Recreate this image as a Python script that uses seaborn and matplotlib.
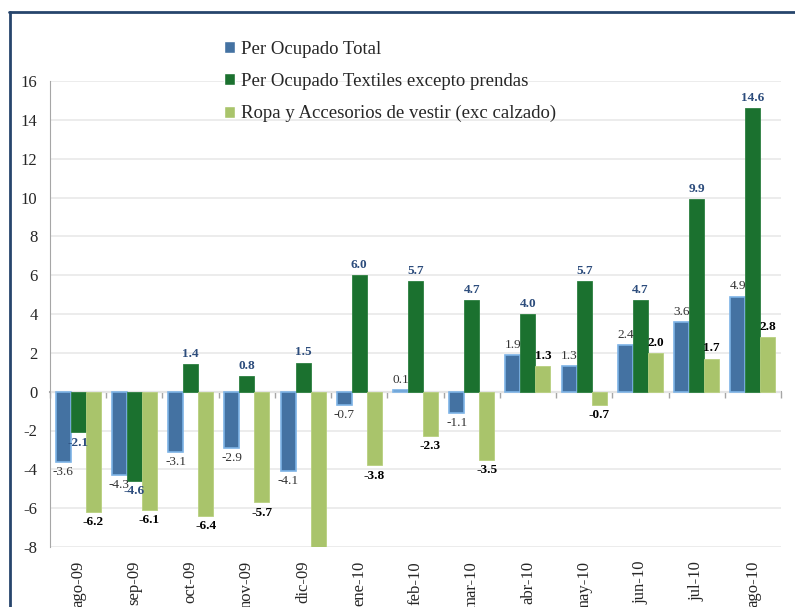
import matplotlib
matplotlib.use('Agg')
import pandas as pd
import matplotlib.pyplot as plt
from matplotlib.lines import Line2D
import seaborn as sns

meses = ['ago-09', 'sep-09', 'oct-09', 'nov-09', 'dic-09', 'ene-10', 'feb-10',
         'mar-10', 'abr-10', 'may-10', 'jun-10', 'jul-10', 'ago-10']
series = ['Per Ocupado Total', 'Per Ocupado Textiles excepto prendas',
          'Ropa y Accesorios de vestir (exc calzado)']
total = [-3.6, -4.3, -3.1, -2.9, -4.1, -0.7, 0.1, -1.1, 1.9, 1.3, 2.4, 3.6, 4.9]
textiles = [-2.1, -4.6, 1.4, 0.8, 1.5, 6.0, 5.7, 4.7, 4.0, 5.7, 4.7, 9.9, 14.6]
# dic-09 ropa bar runs off the bottom of the chart, value estimated
ropa = [-6.2, -6.1, -6.4, -5.7, -8.6, -3.8, -2.3, -3.5, 1.3, -0.7, 2.0, 1.7, 2.8]

df = pd.DataFrame({
    'mes': meses * 3,
    'serie': [series[0]] * 13 + [series[1]] * 13 + [series[2]] * 13,
    'valor': total + textiles + ropa,
})

colores = ['#4472a2', '#1b712f', '#a9c46b']
gris = '#a6a6a6'

sns.set_style('white')
plt.rcParams['font.family'] = ['Liberation Serif', 'DejaVu Serif']
plt.rcParams['axes.unicode_minus'] = False

fig = plt.figure(figsize=(7.95, 6.07), dpi=100)
ax = fig.add_axes([50 / 795, 1 - 547 / 607, 731 / 795, (547 - 81) / 607])

sns.barplot(data=df, x='mes', y='valor', hue='serie', palette=colores,
            saturation=1, width=0.8, ax=ax)

# blue bars get a light blue rim
for b in ax.containers[0]:
    b.set_edgecolor('#7db3e6')
    b.set_linewidth(1.2)
for b in ax.containers[1]:
    b.set_edgecolor('#2c8040')
    b.set_linewidth(0.6)
for b in ax.containers[2]:
    b.set_edgecolor('#b8d07f')
    b.set_linewidth(0.6)

ymin, ymax = -8, 16
ax.set_ylim(ymin, ymax)
ax.set_yticks(range(-8, 17, 2))
ax.set_xlim(-0.5, 12.5)

estilos = [dict(color='#333333', fontweight='normal'),
           dict(color='#2c4c7c', fontweight='bold'),
           dict(color='black', fontweight='bold')]
for cont, vals, st in zip(ax.containers, [total, textiles, ropa], estilos):
    labs = [f'{v:.1f}' if v >= ymin else '' for v in vals]
    ax.bar_label(cont, labels=labs, padding=3, fontsize=9.5, **st)

ax.yaxis.grid(True, color='#ebebeb', linewidth=1.3)
ax.set_axisbelow(True)
for s in ['top', 'right', 'bottom']:
    ax.spines[s].set_visible(False)
ax.spines['left'].set_color(gris)
ax.tick_params(axis='y', length=5, color=gris, width=1, labelsize=12, pad=4)
ax.tick_params(axis='x', length=0, labelsize=12, pad=10, labelrotation=90)
ax.set_xlabel('')
ax.set_ylabel('')

# zero line with the category separators
sec = ax.secondary_xaxis((0 - ymin) / (ymax - ymin))
sec.set_xticks([i - 0.5 for i in range(14)])
sec.set_xticklabels([])
sec.tick_params(length=4, color=gris, width=1, direction='out')
for s in ['top', 'bottom']:
    sec.spines[s].set_color(gris)
    sec.spines[s].set_linewidth(1.5)

h, l = ax.get_legend_handles_labels()
ax.get_legend().remove()
fig.legend(h, l, loc='upper left', bbox_to_anchor=(224 / 795, 1 - 41 / 607),
           frameon=False, fontsize=13.5, handlelength=0.6, handleheight=0.6,
           handletextpad=0.3, labelspacing=0.8, borderpad=0, borderaxespad=0)

# outer frame of the chart
fig.add_artist(Line2D([10 / 795, 10 / 795], [0, 1 - 12 / 607],
                      transform=fig.transFigure, color='#27456c', lw=2))
fig.add_artist(Line2D([9 / 795, 1], [1 - 12 / 607, 1 - 12 / 607],
                      transform=fig.transFigure, color='#27456c', lw=2))

fig.savefig('out.png', dpi=100)
